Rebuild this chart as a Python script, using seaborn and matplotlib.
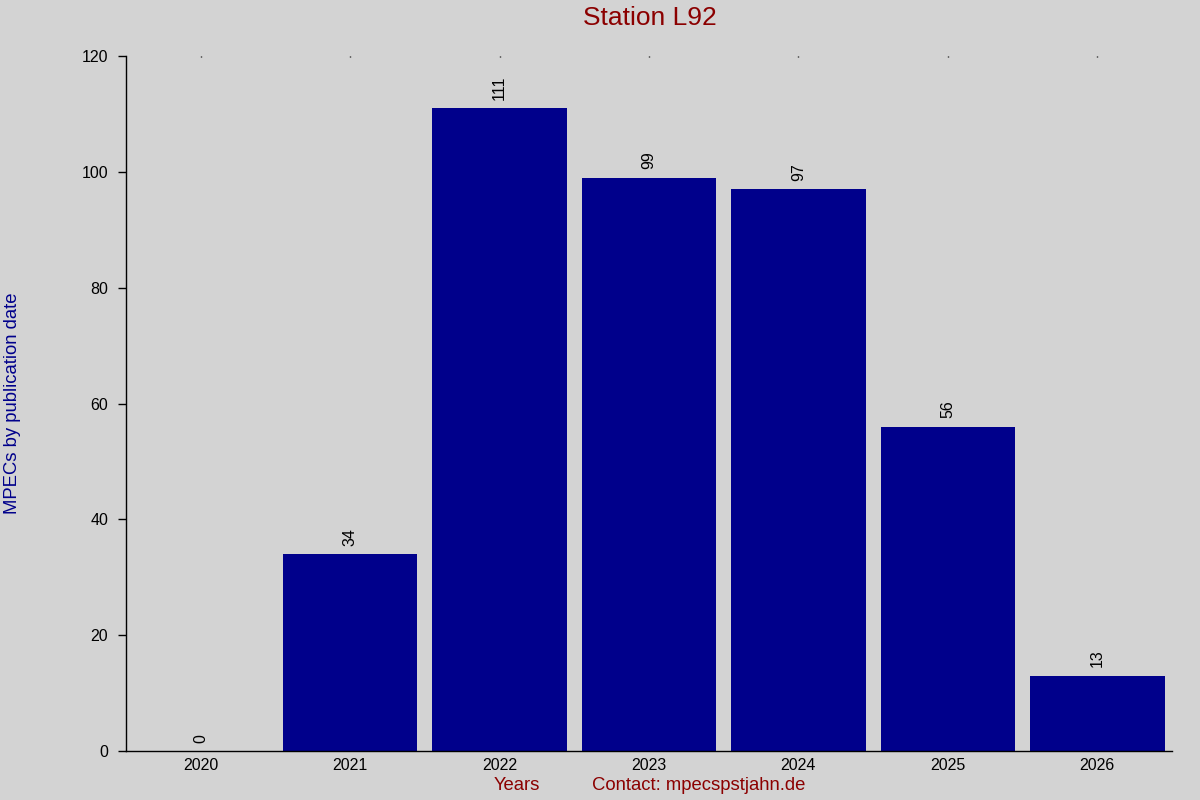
import matplotlib
matplotlib.use("Agg")
import matplotlib.pyplot as plt
import seaborn as sns
import pandas as pd

years = ["2020", "2021", "2022", "2023", "2024", "2025", "2026"]
counts = [0, 34, 111, 99, 97, 56, 13]
yticks = [0, 20, 40, 60, 80, 100, 120]

sns.set_theme(style="ticks")
plt.rcParams["font.family"] = ["Liberation Sans", "DejaVu Sans"]

BG = "#d3d3d3"
BAR = "#00008b"
RED = "#8b0000"

fig = plt.figure(figsize=(12, 8), dpi=100, facecolor=BG)
ax = fig.add_axes([126/1200, 1-751/800, (1172-126)/1200, (751-56)/800])
ax.set_facecolor(BG)

df = pd.DataFrame({"year": years, "count": counts})
sns.barplot(data=df, x="year", y="count", color=BAR, saturation=1,
            width=0.9, ax=ax, edgecolor="none", linewidth=0)

ax.set_xlim(-0.5, 6.5)
ax.set_ylim(0, 120)
ax.set_yticks(yticks)
ax.set_xlabel("")
ax.set_ylabel("")

for s in ["top", "right"]:
    ax.spines[s].set_visible(False)
for s in ["left", "bottom"]:
    ax.spines[s].set_color("black")
    ax.spines[s].set_linewidth(1.0)

ax.tick_params(axis="y", direction="out", length=5.8, width=1, color="black",
               labelsize=11.5, labelcolor="black", pad=7)
ax.tick_params(axis="x", which="both", bottom=False, top=True, direction="in",
               length=1, width=1, color="black", labelsize=11.5,
               labelcolor="black", pad=5, labelbottom=True, labeltop=False)

for c in ax.containers:
    ax.bar_label(c, labels=[str(v) for v in counts], rotation=90,
                 padding=6, fontsize=11.5, color="black")

fig.text(649.5/1200, 1-18/800, "Station L92", ha="center", va="center",
         fontsize=19, color=RED)
fig.text(13/1200, 1-403/800, "MPECs by publication date", rotation=90,
         ha="center", va="center", fontsize=13.3, color=BAR)
fig.text(494/1200, 1-786/800, "Years", ha="left", va="center",
         fontsize=13.3, color=RED)
fig.text(592/1200, 1-786/800, "Contact: mpecspstjahn.de", ha="left",
         va="center", fontsize=13.3, color=RED)

fig.savefig("out.png", dpi=100, facecolor=BG)
